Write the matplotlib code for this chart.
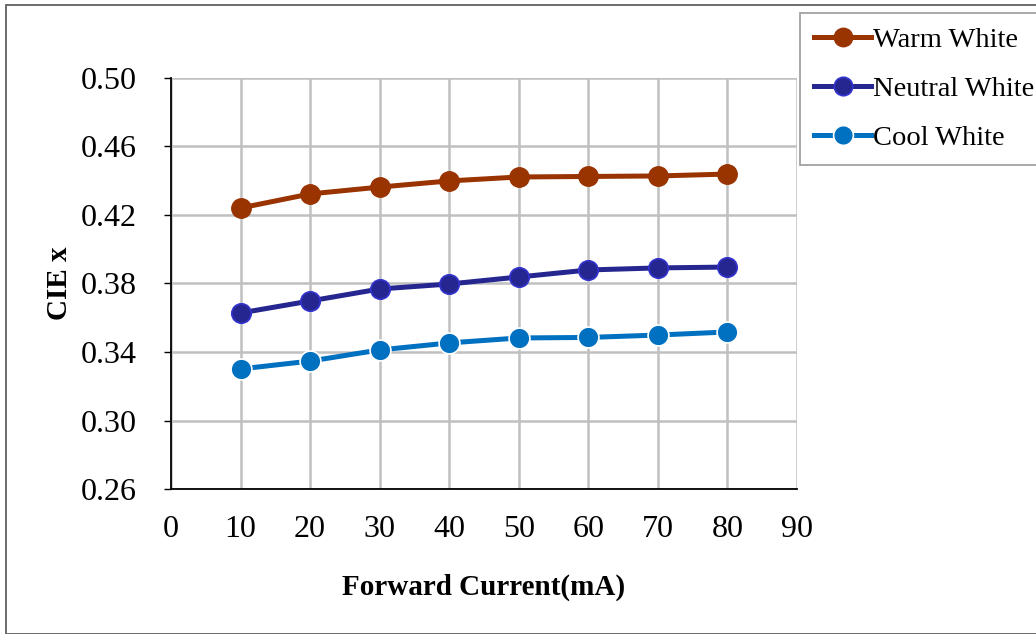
import matplotlib.pyplot as plt
from matplotlib.patches import Rectangle

plt.rcParams['font.family'] = ['Liberation Serif', 'DejaVu Serif']

current = [10, 20, 30, 40, 50, 60, 70, 80]
warm = [0.4241, 0.4323, 0.4363, 0.4399, 0.4422, 0.4425, 0.4428, 0.4439]
neutral = [0.3628, 0.3698, 0.3768, 0.3797, 0.3838, 0.3879, 0.3891, 0.3896]
cool = [0.3301, 0.3347, 0.3412, 0.3453, 0.3482, 0.3485, 0.3499, 0.3517]

x_ticks = [0, 10, 20, 30, 40, 50, 60, 70, 80, 90]
y_ticks = [0.26, 0.30, 0.34, 0.38, 0.42, 0.46, 0.50]

fig = plt.figure(figsize=(10.36, 6.34), dpi=100)
ax = fig.add_axes([171 / 1036, 1 - 489 / 634, 626 / 1036, 411 / 634])

ax.plot(current, warm, color="#993300", lw=3.6, marker="o", ms=14,
        mfc="#993300", mec="#993300", label="Warm White", zorder=3)
ax.plot(current, neutral, color="#262690", lw=3.6, marker="o", ms=14,
        mfc="#262690", mec="#3434d0", mew=1.2, label="Neutral White", zorder=3)
ax.plot(current, cool, color="#0070c0", lw=3.6, marker="o", ms=15,
        mfc="#0070c0", mec="white", mew=1.2, label="Cool White", zorder=3)

ax.set_xlim(0, 90)
ax.set_ylim(0.26, 0.50)
ax.set_xticks(x_ticks)
ax.set_yticks(y_ticks)
ax.set_yticklabels([f"{v:.2f}" for v in y_ticks])
ax.grid(True, color="#c0c0c0", lw=1.8)
ax.set_axisbelow(True)
ax.tick_params(labelsize=23, length=5, width=1, direction="out", pad=20)
ax.tick_params(axis="x", length=0, pad=19)
for s in ["top", "right"]:
    ax.spines[s].set_visible(False)
for s in ["left", "bottom"]:
    ax.spines[s].set_linewidth(1.3)

ax.set_xlabel("Forward Current(mA)", fontsize=21, fontweight="bold", labelpad=21)
ax.set_ylabel("CIE x", fontsize=21, fontweight="bold", labelpad=5)

leg = fig.legend(loc="upper left", bbox_to_anchor=(800 / 1036, 1 - 13 / 634),
                 fontsize=20.5, frameon=True, fancybox=False, edgecolor="#808080",
                 handlelength=2.0, handletextpad=0.05, labelspacing=0.8,
                 borderpad=0.5, borderaxespad=0, markerscale=0.95)
leg.get_frame().set_linewidth(1.2)

fig.patches.append(Rectangle((6 / 1036, 0), 1.1, 1 - 5 / 634, transform=fig.transFigure,
                             fill=False, edgecolor="#606060", lw=1.3))

fig.savefig("out.png", dpi=100)
